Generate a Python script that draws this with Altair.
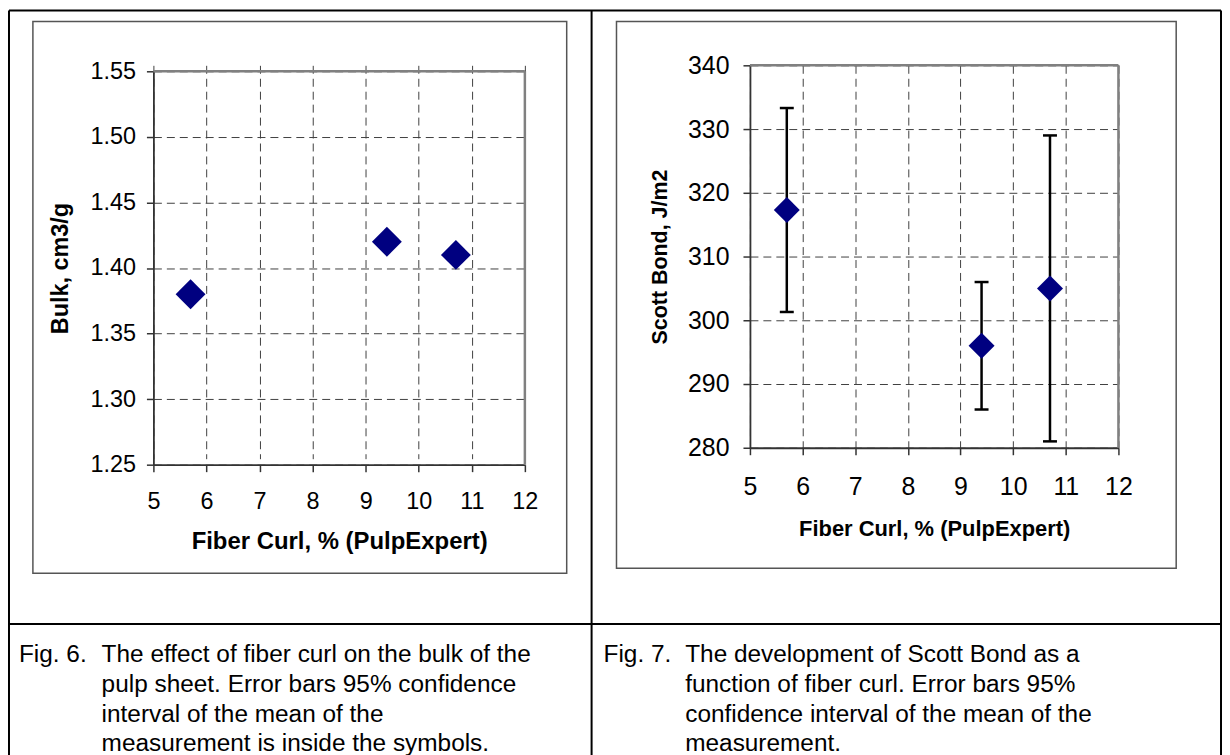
import altair as alt
import pandas as pd

# ---------------- data ----------------
curl = [5.7, 9.4, 10.7]                  # Fiber curl, %
bulk = [1.38, 1.42, 1.41]                # Fig. 6: Bulk, cm3/g
scott = [317.3, 296.0, 305.0]            # Fig. 7: Scott Bond, J/m2
scott_lo = [301.3, 286.0, 281.0]         # 95% CI lower
scott_hi = [333.3, 306.0, 329.0]         # 95% CI upper

x_ticks = [5, 6, 7, 8, 9, 10, 11, 12]
bulk_ticks = [1.25, 1.30, 1.35, 1.40, 1.45, 1.50, 1.55]
scott_ticks = [280, 290, 300, 310, 320, 330, 340]

x_title = "Fiber Curl, % (PulpExpert)"
bulk_title = "Bulk, cm3/g"
scott_title = "Scott Bond, J/m2"

fig6_label = "Fig. 6."
caption6 = ["The effect of fiber curl on the bulk of the",
            "pulp sheet. Error bars 95% confidence",
            "interval of the mean of the",
            "measurement is inside the symbols."]
fig7_label = "Fig. 7."
caption7 = ["The development of Scott Bond as a",
            "function of fiber curl. Error bars 95%",
            "confidence interval of the mean of the",
            "measurement."]

FONT = "Liberation Sans"
NAVY = "#000080"
GRID = "#404040"
AXC = "#333333"

df6 = pd.DataFrame({"curl": curl, "bulk": bulk})
df7 = pd.DataFrame({"curl": curl, "scott": scott, "lo": scott_lo, "hi": scott_hi})
caps7 = pd.DataFrame({"curl": curl + curl, "v": scott_lo + scott_hi})

one = alt.Data(values=[{"k": 1}])


def prule(x1, y1, x2, y2, color="black", width=2.0):
    return alt.Chart(one).mark_rule(color=color, strokeWidth=width).encode(
        x=alt.value(x1), x2=alt.value(x2), y=alt.value(y1), y2=alt.value(y2))


def pbox(x1, y1, x2, y2, color="#555555", width=1.5):
    return alt.Chart(one).mark_rect(fillOpacity=0, stroke=color, strokeWidth=width).encode(
        x=alt.value(x1), x2=alt.value(x2), y=alt.value(y1), y2=alt.value(y2))


def ptext(lines, x, y, size=24.5, lh=30):
    return alt.Chart(one).mark_text(
        align="left", baseline="alphabetic", font=FONT, fontSize=size,
        color="black", lineBreak="\n", lineHeight=lh).encode(
        x=alt.value(x), y=alt.value(y), text=alt.value("\n".join(lines)))


def x_axis(label_size, title_size, label_pad, title_x, title_y):
    return alt.Axis(values=x_ticks, format="d", title=x_title, grid=True,
                    gridDash=[8, 5], gridColor=GRID, gridWidth=1, gridOpacity=1,
                    domainColor=AXC, domainWidth=1.8, tickColor=AXC, tickWidth=1.5,
                    tickSize=7, labelFont=FONT, labelFontSize=label_size,
                    labelColor="black", labelPadding=label_pad, labelFlush=False,
                    labelOverlap=False, titleFont=FONT, titleFontSize=title_size,
                    titleFontWeight="bold", titleColor="black", titleX=title_x,
                    titleY=title_y, titleBaseline="middle")


def y_axis(values, fmt, title, label_size, title_size, label_pad, title_x, title_y):
    return alt.Axis(values=values, format=fmt, title=title, grid=True,
                    gridDash=[8, 5], gridColor=GRID, gridWidth=1, gridOpacity=1,
                    domainColor=AXC, domainWidth=1.8, tickColor=AXC, tickWidth=1.5,
                    tickSize=7, labelFont=FONT, labelFontSize=label_size,
                    labelColor="black", labelPadding=label_pad, labelFlush=False,
                    labelOverlap=False, titleFont=FONT, titleFontSize=title_size,
                    titleFontWeight="bold", titleColor="black", titleX=title_x,
                    titleY=title_y, titleBaseline="middle")


# ---------------- left panel (Fig. 6) ----------------
LW, LH, LTOP = 373, 401, 6
xs6 = alt.Scale(domain=[5, 12], nice=False)
ys6 = alt.Scale(domain=[1.25, 1.55], nice=False, zero=False, range=[LH, LTOP])

pts6 = alt.Chart(df6).mark_point(shape="diamond", filled=True, size=900,
                                 color=NAVY, opacity=1, strokeWidth=0).encode(
    x=alt.X("curl:Q", scale=xs6, axis=x_axis(23.5, 24, 18, LW / 2, 77)),
    y=alt.Y("bulk:Q", scale=ys6,
            axis=y_axis(bulk_ticks, ".2f", bulk_title, 23.5, 23.5, 11, -93, (LH + LTOP) / 2)),
)
top6 = alt.Chart(one).mark_rule(color="#808080", strokeWidth=2.5).encode(
    x=alt.X(datum=5, scale=xs6), x2=alt.datum(12), y=alt.Y(datum=1.55, scale=ys6))
right6 = alt.Chart(one).mark_rule(color="#808080", strokeWidth=2.5).encode(
    x=alt.X(datum=12, scale=xs6), y=alt.Y(datum=1.25, scale=ys6), y2=alt.datum(1.55))

left = alt.layer(
    prule(-145, -55, -145, 700),          # table left
    prule(-145, -55, 1072, -55),          # table top
    prule(1072, -55, 1072, 700),          # table right
    prule(-145, 561, 1072, 561),          # row separator
    prule(440, -55, 440, 700),            # column divider
    pbox(-121, -44, 415, 510),            # chart frame
    ptext([fig6_label], -135, 599),
    ptext(caption6, -52, 599),
    top6, right6, pts6,
).properties(width=LW, height=LH)

# ---------------- right panel (Fig. 7) ----------------
RW, RH = 370, 384
xs7 = alt.Scale(domain=[5, 12], nice=False)
ys7 = alt.Scale(domain=[280, 340], nice=False, zero=False)

pts7 = alt.Chart(df7).mark_point(shape="diamond", filled=True, size=680,
                                 color=NAVY, opacity=1, strokeWidth=0).encode(
    x=alt.X("curl:Q", scale=xs7, axis=x_axis(25, 22, 20, RW / 2, 81)),
    y=alt.Y("scott:Q", scale=ys7,
            axis=y_axis(scott_ticks, "d", scott_title, 25, 21.5, 14, -90, RH / 2)),
)
err7 = alt.Chart(df7).mark_rule(color="black", strokeWidth=2.5).encode(
    x=alt.X("curl:Q", scale=xs7), y=alt.Y("lo:Q", scale=ys7), y2="hi:Q")
cap7 = alt.Chart(caps7).mark_tick(orient="horizontal", size=14, thickness=2.5,
                                  color="black", opacity=1).encode(
    x=alt.X("curl:Q", scale=xs7), y=alt.Y("v:Q", scale=ys7))
top7 = alt.Chart(one).mark_rule(color="#808080", strokeWidth=2.5).encode(
    x=alt.X(datum=5, scale=xs7), x2=alt.datum(12), y=alt.Y(datum=340, scale=ys7))
right7 = alt.Chart(one).mark_rule(color="#808080", strokeWidth=2.5).encode(
    x=alt.X(datum=12, scale=xs7), y=alt.Y(datum=280, scale=ys7), y2=alt.datum(340))

right = alt.layer(
    pbox(-134, -44, 428, 505),
    ptext([fig7_label], -147, 599),
    ptext(caption7, -65, 599),
    top7, right7, err7, cap7, pts7,
).properties(width=RW, height=RH)

chart = alt.hconcat(left, right, spacing=226, bounds="flush").properties(
    padding=0, background="white"
).configure_view(strokeOpacity=0)

chart.save("out.html", embed_options={"renderer": "svg", "actions": False})
